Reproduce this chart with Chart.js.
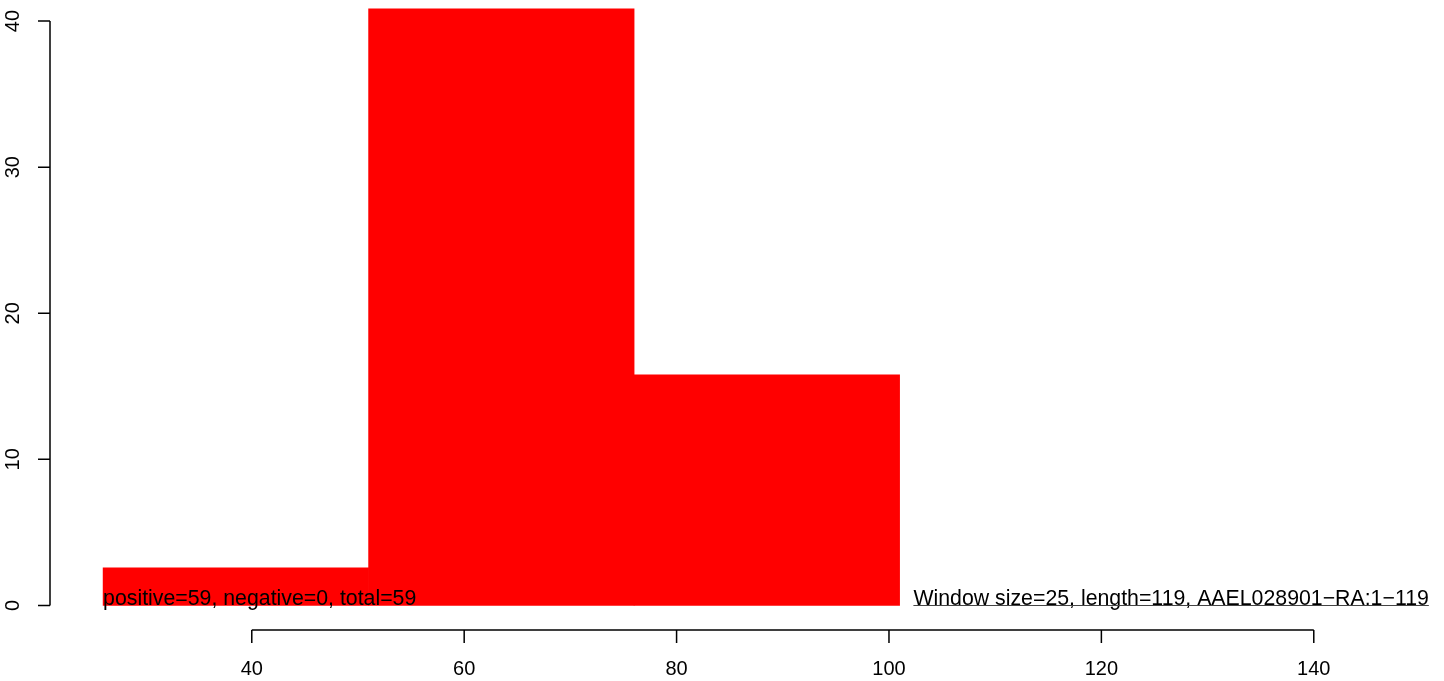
<!DOCTYPE html>
<html>
<head>
<meta charset="utf-8">
<script src="https://cdn.jsdelivr.net/npm/chart.js@4/dist/chart.umd.min.js"></script>
<style>
html,body{margin:0;padding:0;background:#fff;}
#c{display:block;}
</style>
</head>
<body>
<canvas id="c" width="1444" height="681"></canvas>
<script>
// ---- data ----
const binCenters = [38.5, 63.5, 88.5];
const binValues = [2.57, 40.83, 15.78];
const xTickValues = [40, 60, 80, 100, 120, 140];
const yTickValues = [0, 10, 20, 30, 40];
const leftNote = "positive=59, negative=0, total=59";
const leftNoteX = 26;
const rightNote = "Window size=25, length=119, AAEL028901\u2212RA:1\u2212119";
const rightNoteX = 102.3;

const FAMILY = '"Liberation Sans", Arial, Helvetica, sans-serif';
const TICK_FONT = '20px ' + FAMILY;
const NOTE_FONT = '21.3px ' + FAMILY;

const rAxes = {
  id: 'rAxes',
  afterDatasetsDraw(chart) {
    const ctx = chart.ctx;
    const xs = chart.scales.x, ys = chart.scales.y;
    const area = chart.chartArea;
    ctx.save();
    ctx.strokeStyle = '#000';
    ctx.fillStyle = '#000';
    ctx.lineWidth = 1.5;
    // y axis
    const yAxX = area.left;
    ctx.beginPath();
    ctx.moveTo(yAxX, ys.getPixelForValue(yTickValues[0]));
    ctx.lineTo(yAxX, ys.getPixelForValue(yTickValues[yTickValues.length-1]));
    yTickValues.forEach(v => {
      const p = ys.getPixelForValue(v);
      ctx.moveTo(yAxX, p); ctx.lineTo(yAxX - 12, p);
    });
    ctx.stroke();
    ctx.font = TICK_FONT;
    ctx.textAlign = 'center';
    ctx.textBaseline = 'middle';
    yTickValues.forEach(v => {
      const p = ys.getPixelForValue(v);
      ctx.save();
      ctx.translate(13, p);
      ctx.rotate(-Math.PI/2);
      ctx.fillText(String(v), 0, 0);
      ctx.restore();
    });
    // x axis
    const xAxY = area.bottom;
    ctx.beginPath();
    ctx.moveTo(xs.getPixelForValue(xTickValues[0]), xAxY);
    ctx.lineTo(xs.getPixelForValue(xTickValues[xTickValues.length-1]), xAxY);
    xTickValues.forEach(v => {
      const p = xs.getPixelForValue(v);
      ctx.moveTo(p, xAxY); ctx.lineTo(p, xAxY + 13);
    });
    ctx.stroke();
    xTickValues.forEach(v => {
      ctx.fillText(String(v), xs.getPixelForValue(v), 669);
    });
    // annotations
    const base = ys.getPixelForValue(0);
    ctx.font = NOTE_FONT;
    ctx.textAlign = 'left';
    ctx.textBaseline = 'alphabetic';
    ctx.fillText(leftNote, xs.getPixelForValue(leftNoteX), base);
    const rx = xs.getPixelForValue(rightNoteX);
    ctx.fillText(rightNote, rx, base);
    const w = ctx.measureText(rightNote).width;
    ctx.lineWidth = 1;
    ctx.strokeStyle = '#444';
    ctx.beginPath();
    ctx.moveTo(rx, Math.round(base) + 0.5);
    ctx.lineTo(rx + w, Math.round(base) + 0.5);
    ctx.stroke();
    ctx.restore();
  }
};

new Chart(document.getElementById('c'), {
  type: 'bar',
  data: {
    datasets: [{
      data: binCenters.map((c, i) => ({x: c, y: binValues[i]})),
      backgroundColor: '#ff0000',
      borderWidth: 0,
      barPercentage: 1.0,
      categoryPercentage: 1.0
    }]
  },
  options: {
    responsive: false,
    animation: false,
    devicePixelRatio: 1,
    layout: { padding: { left: 50, right: 13.4, top: 0.6, bottom: 51 } },
    plugins: { legend: { display: false }, tooltip: { enabled: false } },
    scales: {
      x: { type: 'linear', min: 21, max: 151, offset: false, display: false,
           afterBuildTicks: s => { s.ticks = []; } },
      y: { type: 'linear', min: -1.68, max: 41.4, display: false }
    }
  },
  plugins: [rAxes]
});
</script>
</body>
</html>
